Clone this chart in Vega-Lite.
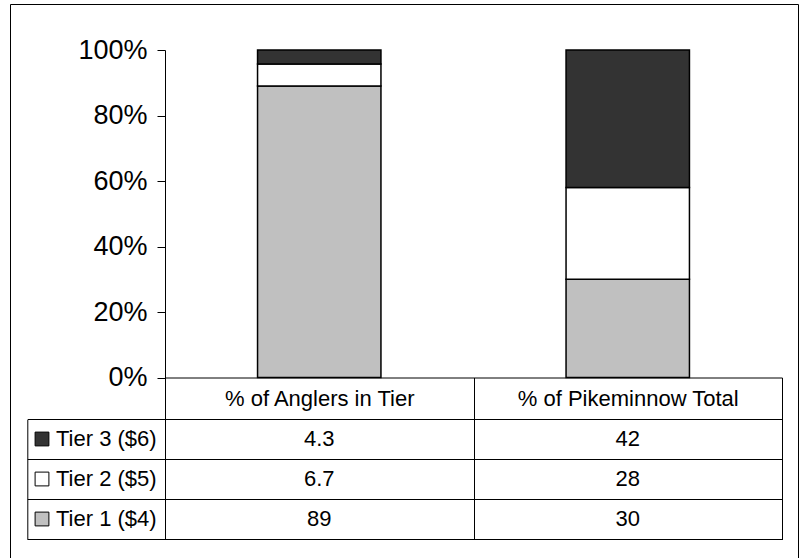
{
  "$schema": "https://vega.github.io/schema/vega-lite/v6.json",
  "width": 788,
  "height": 556,
  "autosize": {"type": "none"},
  "padding": {"left": 10, "top": 4, "right": 5, "bottom": 0},
  "background": "white",
  "config": {
    "view": {"stroke": "black", "strokeWidth": 1},
    "font": "Liberation Sans",
    "axis": {
      "labelFont": "Liberation Sans",
      "labelColor": "black",
      "domainColor": "black",
      "domainWidth": 1,
      "tickColor": "black",
      "tickWidth": 1,
      "grid": false,
      "title": null
    },
    "legend": {"labelFont": "Liberation Sans", "labelColor": "black"}
  },
  "data": {
    "values": [
      {"category": "% of Anglers in Tier", "tier": "Tier 1 ($4)", "value": 89},
      {"category": "% of Anglers in Tier", "tier": "Tier 2 ($5)", "value": 6.7},
      {"category": "% of Anglers in Tier", "tier": "Tier 3 ($6)", "value": 4.3},
      {"category": "% of Pikeminnow Total", "tier": "Tier 1 ($4)", "value": 30},
      {"category": "% of Pikeminnow Total", "tier": "Tier 2 ($5)", "value": 28},
      {"category": "% of Pikeminnow Total", "tier": "Tier 3 ($6)", "value": 42}
    ]
  },
  "encoding": {
    "x": {
      "field": "category",
      "type": "nominal",
      "sort": ["% of Anglers in Tier", "% of Pikeminnow Total"],
      "scale": {"range": [155, 772], "paddingInner": 0, "paddingOuter": 0},
      "axis": {
        "orient": "bottom",
        "offset": -182.5,
        "tickBand": "extent",
        "tickSize": 162,
        "labelAngle": 0,
        "labelFontSize": 22,
        "labelBaseline": "middle",
        "labelPadding": -141.5,
        "labelLimit": 400
      }
    }
  },
  "layer": [
    {
      "mark": {"type": "bar", "width": {"band": 0.4}, "stroke": "black", "strokeWidth": 1.5},
      "encoding": {
        "y": {
          "field": "value",
          "type": "quantitative",
          "stack": "zero",
          "scale": {"domain": [0, 100], "range": [373.5, 46], "nice": false},
          "axis": {
            "orient": "left",
            "offset": -155,
            "values": [0, 20, 40, 60, 80, 100],
            "labelExpr": "datum.value + '%'",
            "labelFontSize": 27,
            "tickSize": 8,
            "labelPadding": 10
          }
        },
        "color": {
          "field": "tier",
          "type": "nominal",
          "scale": {
            "domain": ["Tier 3 ($6)", "Tier 2 ($5)", "Tier 1 ($4)"],
            "range": ["#333333", "#ffffff", "#c0c0c0"]
          },
          "legend": {
            "title": null,
            "orient": "none",
            "legendX": 21,
            "legendY": 424,
            "padding": 0,
            "symbolType": "square",
            "symbolSize": 190,
            "symbolStrokeColor": "black",
            "symbolStrokeWidth": 1,
            "symbolOpacity": 1,
            "labelFontSize": 22,
            "labelOffset": 3,
            "rowPadding": 18
          }
        },
        "order": {"field": "tier", "sort": "ascending"}
      }
    },
    {
      "mark": {"type": "text", "fontSize": 22, "font": "Liberation Sans", "color": "black"},
      "encoding": {
        "y": {
          "field": "tier",
          "type": "nominal",
          "scale": {
            "domain": ["Tier 3 ($6)", "Tier 2 ($5)", "Tier 1 ($4)"],
            "range": [415.3, 535.3],
            "paddingInner": 0,
            "paddingOuter": 0
          },
          "axis": {
            "orient": "left",
            "offset": -17.3,
            "tickBand": "extent",
            "tickSize": -754.7,
            "labels": false
          }
        },
        "text": {"field": "value", "type": "quantitative"}
      }
    }
  ],
  "resolve": {"scale": {"y": "independent"}, "axis": {"y": "independent"}}
}
